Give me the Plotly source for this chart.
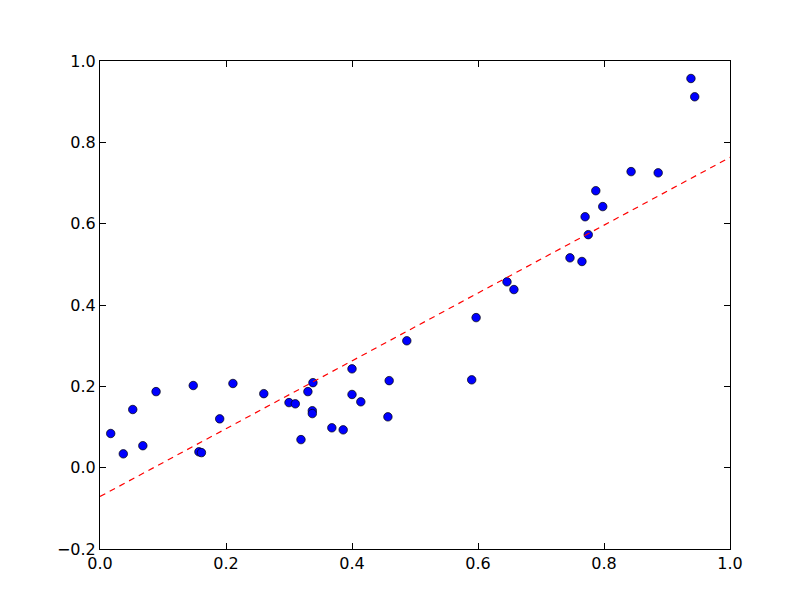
import plotly.graph_objects as go

x_vals = [0.017, 0.037, 0.052, 0.068, 0.089, 0.148, 0.157, 0.161, 0.190, 0.211,
          0.260, 0.300, 0.310, 0.319, 0.330, 0.338, 0.337, 0.337, 0.368, 0.386,
          0.400, 0.400, 0.414, 0.457, 0.459, 0.487, 0.590, 0.597, 0.646, 0.657,
          0.746, 0.765, 0.770, 0.775, 0.787, 0.798, 0.843, 0.886, 0.938, 0.944]
y_vals = [0.084, 0.034, 0.143, 0.054, 0.187, 0.202, 0.039, 0.037, 0.120, 0.207,
          0.182, 0.160, 0.157, 0.069, 0.187, 0.209, 0.140, 0.133, 0.098, 0.093,
          0.243, 0.180, 0.162, 0.125, 0.214, 0.312, 0.216, 0.369, 0.457, 0.438,
          0.516, 0.507, 0.617, 0.573, 0.681, 0.642, 0.728, 0.725, 0.957, 0.912]

fit_x = [0.0, 1.0]
fit_y = [-0.071, 0.763]

x_ticks = [0.0, 0.2, 0.4, 0.6, 0.8, 1.0]
y_ticks = [-0.2, 0.0, 0.2, 0.4, 0.6, 0.8, 1.0]

fig = go.Figure()
fig.add_trace(go.Scatter(x=x_vals, y=y_vals, mode="markers",
                         marker=dict(color="#0000ff", size=8.5,
                                     line=dict(color="black", width=0.7)),
                         showlegend=False))
fig.add_trace(go.Scatter(x=fit_x, y=fit_y, mode="lines",
                         line=dict(color="#ff0000", width=1.2, dash="6px,5px"),
                         showlegend=False))

axis_common = dict(showgrid=False, zeroline=False, showline=True, linecolor="black",
                   linewidth=1, mirror="ticks", ticks="inside", ticklen=6,
                   tickcolor="black", tickwidth=1,
                   tickfont=dict(family="DejaVu Sans", size=16, color="black"))
fig.update_xaxes(range=[0, 1], tickvals=x_ticks,
                 ticktext=[f"{v:.1f}" for v in x_ticks], **axis_common)
fig.update_yaxes(range=[-0.2, 1.0], tickvals=y_ticks,
                 ticktext=[f"{v:.1f}".replace("-", "\u2212") for v in y_ticks], **axis_common)

fig.update_layout(width=804, height=604, margin=dict(l=92, r=82, t=53, b=63),
                  plot_bgcolor="white", paper_bgcolor="white")
fig.write_html("out.html")
